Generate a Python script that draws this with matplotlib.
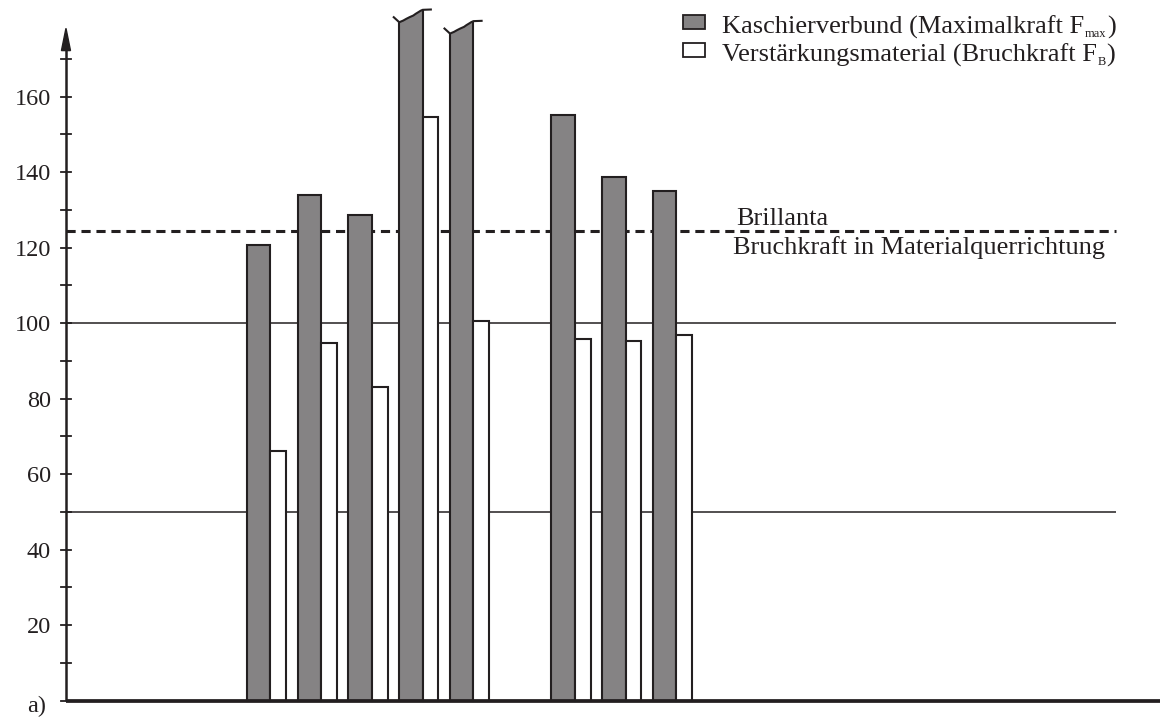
import matplotlib
matplotlib.use("Agg")
import matplotlib.pyplot as plt
from matplotlib.patches import Rectangle, Polygon
import numpy as np

plt.rcParams['font.family'] = ['Liberation Serif', 'DejaVu Serif']

# ---- data -------------------------------------------------------------
positions = [0, 1, 2, 3, 4, 6, 7, 8]
laminate = [120.7, 133.9, 128.6, 183.0, 180.0, 155.1, 138.7, 135.0]      # F_max
laminate_cut = [False, False, False, True, True, False, False, False]     # off-scale bars
reinforcement = [66.2, 94.6, 83.1, 154.6, 100.6, 95.7, 95.3, 96.8]       # F_B
brillanta = 124.4
ref_lines = [100, 50]
yticks = [20, 40, 60, 80, 100, 120, 140, 160]
minor_ticks = list(range(0, 180, 10))
legend_main = ["Kaschierverbund (Maximalkraft F", "Verstärkungsmaterial (Bruchkraft F"]
legend_sub = ["max", "B"]
ref_label = ["Brillanta", "Bruchkraft in Materialquerrichtung"]
panel_label = "a)"

# ---- style ------------------------------------------------------------
W, H = 1164, 717
ink = '#231f20'
grey = '#858384'
grey_w, white_w = 0.463, 0.31
x_axis = -3.567        # position of the value axis
x_end = 17.99          # end of the category axis
x_ref_end = 17.12      # end of the reference lines
fs_text = 19
fs_tick = 17.5


def fx(px):
    return px / W


def fy(py):
    return 1 - py / H


fig = plt.figure(figsize=(W / 100, H / 100), dpi=100)
ax = fig.add_axes([0, 0, 1, 1])
ax.set_axis_off()
ax.set_xlim(-4.867, 18.07)
ax.set_ylim(-4.37, 185.6)
renderer = fig.canvas.get_renderer()

# reference lines behind the bars
ax.hlines(ref_lines, x_axis, x_ref_end, color=ink, lw=1.1, zorder=1)

# bars
gbars = ax.bar(positions, laminate, width=grey_w, align='edge', color=grey,
               edgecolor=ink, linewidth=1.5, zorder=3)
wbars = ax.bar([p + grey_w for p in positions], reinforcement, width=white_w,
               align='edge', color='white', edgecolor=ink, linewidth=1.5, zorder=3)

# torn tops for the off-scale bars (profile relative to the bar's top corner)
prof_dx = np.array([0.0, 0.17, 0.30, 0.44, 0.60, 0.70, 0.81, 0.91, 1.0])
prof_dy = np.array([-3.29, -2.85, -2.39, -1.95, -1.51, -1.06, -0.64, -0.25, 0.0])
for bar, v, cut in zip(gbars, laminate, laminate_cut):
    if not cut:
        continue
    xl = bar.get_x()
    w = bar.get_width()
    xr = xl + w
    tx = xl + prof_dx * w
    ty = v + prof_dy
    pts = [(xl - 0.05, -5), (xl - 0.05, ty[0])] + list(zip(tx, ty)) + \
          [(xr + 0.05, ty[-1]), (xr + 0.05, -5)]
    clip = Polygon(pts, closed=True, transform=ax.transData)
    bar.set_clip_path(clip)
    wx = np.r_[xl - 0.108, tx, xr + 0.16]
    wy = np.r_[v - 1.96, ty, v + 0.08]
    ax.plot(wx, wy, color=ink, lw=1.5, zorder=4, solid_joinstyle='round')

# dashed Brillanta line
ax.plot([x_axis, x_ref_end], [brillanta, brillanta], color=ink, lw=2.2,
        ls=(0, (3, 1.9)), zorder=2)
ax.annotate(ref_label[0], xy=(9.576, brillanta), xytext=(2, 4.5),
            textcoords='offset points', ha='left', va='baseline',
            fontsize=fs_text, color=ink)
ax.annotate(ref_label[1], xy=(9.576, brillanta), xytext=(0, -16.3),
            textcoords='offset points', ha='left', va='baseline',
            fontsize=fs_text, color=ink)

# value axis with arrow
ax.plot([x_axis, x_axis], [0, 172.8], color=ink, lw=1.8, zorder=5,
        solid_capstyle='butt')
ax.fill([x_axis - 0.089, x_axis, x_axis + 0.089], [172.2, 178.1, 172.2],
        color=ink, zorder=5)
for t in minor_ticks:
    ax.plot([x_axis - 0.1, x_axis + 0.1], [t, t], color=ink, lw=1.3, zorder=5)
for t in yticks:
    ax.text(-3.862, t, str(t), ha='right', va='center_baseline',
            fontsize=fs_tick, color=ink)

# category axis
ax.plot([x_axis, x_end], [0, 0], color=ink, lw=2.7, zorder=5,
        solid_capstyle='butt')

# legend
for i, (fc, main, sub) in enumerate(zip([grey, 'white'], legend_main, legend_sub)):
    top = 15 + 28 * i
    fig.patches.append(Rectangle((fx(683), fy(top + 14)), 22 / W, 14 / H,
                                 transform=fig.transFigure, facecolor=fc,
                                 edgecolor=ink, linewidth=1.3))
    base = top + 19
    t1 = fig.text(fx(722), fy(base), main, ha='left', va='baseline',
                  fontsize=fs_text, color=ink)
    x1 = t1.get_window_extent(renderer).x1
    t2 = fig.text((x1 + 0.5) / W, fy(base + 3), sub, ha='left', va='baseline',
                  fontsize=9, color=ink)
    x2 = t2.get_window_extent(renderer).x1
    fig.text((x2 + 0.5) / W, fy(base), ")", ha='left', va='baseline',
             fontsize=fs_text, color=ink)

fig.text(fx(27), fy(712), panel_label, ha='left', va='baseline',
         fontsize=fs_tick, color=ink)

fig.savefig('out.png', dpi=100)
